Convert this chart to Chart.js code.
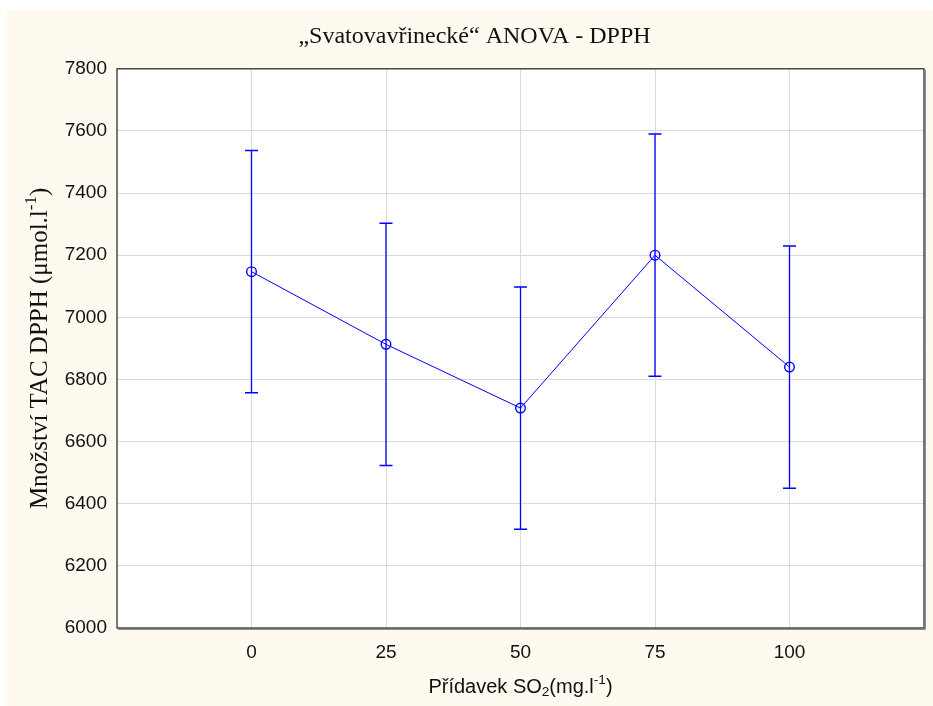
<!DOCTYPE html>
<html>
<head>
<meta charset="utf-8">
<script src="https://cdn.jsdelivr.net/npm/chart.js@4"></script>
<style>
  html, body { margin: 0; padding: 0; background: #ffffff; }
  #wrap { position: absolute; left: 7px; top: 10px; width: 926px; height: 696px; background: #fffaf0; }
</style>
</head>
<body>
<div id="wrap"><canvas id="graf"></canvas></div>
<script>
// data
const davky = [0, 25, 50, 75, 100];
const prumery = [7147, 6913, 6708, 7200, 6840];
const dolni = [6757, 6523, 6318, 6810, 6450];
const horni = [7537, 7303, 7098, 7590, 7230];
const yRozsah = [6000, 7800];
const yKrok = 200;

const modra = '#0000ff';
const sans = '"Liberation Sans", Arial, sans-serif';
const serif = '"Liberation Serif", "Times New Roman", serif';

// chybové úsečky - jeden dataset na každou dávku
const chyby = davky.map((d, i) => ({
  data: [{ x: d, y: dolni[i] }, { x: d, y: horni[i] }],
  showLine: true,
  borderColor: modra,
  borderWidth: 1.3,
  pointStyle: 'line',
  pointRadius: 6.5,
  pointBorderColor: modra,
  pointBorderWidth: 1.5,
  pointHoverRadius: 6.5
}));

// text s horním / dolním indexem
function kresliText(ctx, casti, x, y, velikost, rodina) {
  const f = s => (s ? velikost * 0.68 : velikost) + 'px ' + rodina;
  let w = 0;
  casti.forEach(c => { ctx.font = f(c.s); w += ctx.measureText(c.t).width; });
  let cx = x - w / 2;
  ctx.textBaseline = 'middle';
  ctx.textAlign = 'left';
  casti.forEach(c => {
    ctx.font = f(c.s);
    let dy = 0;
    if (c.s === 'sup') dy = -velikost * 0.35;
    if (c.s === 'sub') dy = velikost * 0.25;
    ctx.fillText(c.t, cx, y + dy);
    cx += ctx.measureText(c.t).width;
  });
}

const ramecek = {
  id: 'ramecek',
  beforeDraw(chart) {
    const { ctx, chartArea: a } = chart;
    ctx.save();
    ctx.fillStyle = '#ffffff';
    ctx.fillRect(a.left, a.top, a.right - a.left, a.bottom - a.top);
    ctx.restore();
  },
  afterDraw(chart) {
    const { ctx, chartArea: a } = chart;
    ctx.save();
    ctx.strokeStyle = '#8a8a8a';
    ctx.lineWidth = 1;
    ctx.beginPath();
    ctx.moveTo(a.right + 1.5, a.top + 1);
    ctx.lineTo(a.right + 1.5, a.bottom + 1.5);
    ctx.lineTo(a.left + 1, a.bottom + 1.5);
    ctx.stroke();
    ctx.strokeStyle = '#303030';
    ctx.lineWidth = 1.3;
    ctx.strokeRect(a.left, a.top, a.right - a.left, a.bottom - a.top);

    ctx.fillStyle = '#111111';
    kresliText(ctx, [
      { t: 'Přídavek SO' }, { t: '2', s: 'sub' }, { t: '(mg.l' }, { t: '-1', s: 'sup' }, { t: ')' }
    ], (a.left + a.right) / 2, 677, 20, sans);

    ctx.translate(33, (a.top + a.bottom) / 2);
    ctx.rotate(-Math.PI / 2);
    kresliText(ctx, [
      { t: 'Množství TAC DPPH (μmol.l' }, { t: '-1', s: 'sup' }, { t: ')' }
    ], 0, 0, 25, serif);
    ctx.restore();
  }
};

new Chart(document.getElementById('graf'), {
  type: 'scatter',
  data: {
    datasets: [
      ...chyby,
      {
        data: davky.map((d, i) => ({ x: d, y: prumery[i] })),
        showLine: true,
        borderColor: modra,
        borderWidth: 1,
        pointStyle: 'circle',
        pointRadius: 4.8,
        pointHoverRadius: 4.8,
        pointBorderColor: modra,
        pointBorderWidth: 1.4,
        pointBackgroundColor: 'rgba(0,0,0,0)'
      }
    ]
  },
  options: {
    responsive: true,
    maintainAspectRatio: false,
    animation: false,
    layout: { padding: { left: 18, right: 9, top: 0, bottom: 0 } },
    plugins: {
      legend: { display: false },
      tooltip: { enabled: false },
      title: {
        display: true,
        text: '„Svatovavřinecké“ ANOVA - DPPH',
        color: '#111111',
        font: { family: serif, size: 24, weight: 'normal', lineHeight: 1.2 },
        padding: { top: 12, bottom: 18 }
      }
    },
    scales: {
      x: {
        type: 'linear',
        min: -25,
        max: 125,
        afterFit: s => { s.height = 78; },
        afterBuildTicks: s => { s.ticks = davky.map(v => ({ value: v })); },
        ticks: {
          color: '#111111',
          padding: 13,
          font: { family: sans, size: 19 },
          callback: v => String(v)
        },
        grid: { color: '#dadada', lineWidth: 1, drawTicks: false },
        border: { display: false }
      },
      y: {
        min: yRozsah[0],
        max: yRozsah[1],
        afterFit: s => { s.width = 92; },
        ticks: {
          stepSize: yKrok,
          color: '#111111',
          padding: 10,
          font: { family: sans, size: 19 },
          callback: v => String(v)
        },
        grid: { color: '#dadada', lineWidth: 1, drawTicks: false },
        border: { display: false }
      }
    }
  },
  plugins: [ramecek]
});
</script>
</body>
</html>
